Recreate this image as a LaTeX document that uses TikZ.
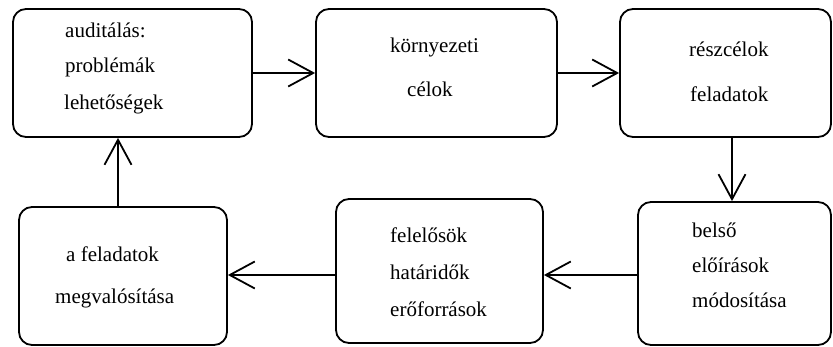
\documentclass[tikz,border=0pt]{standalone}
\usepackage{fontspec}
\setmainfont{Liberation Serif}
\usetikzlibrary{arrows.meta}
\begin{document}
\begin{tikzpicture}[x=1pt,y=-1pt,
  box/.style={draw, line width=1.8pt, rounded corners=13pt},
  txt/.style={inner sep=0pt, anchor=base west, font=\fontsize{21}{25}\selectfont},
  arr/.style={line width=1.8pt, -{Straight Barb[length=25pt,width=27pt,line width=1.8pt]}}]
\useasboundingbox (0,0) rectangle (833,347);
% boxes
\node[box, minimum width=239pt, minimum height=128pt] (b1) at (132.5,73) {};
\node[box, minimum width=241pt, minimum height=128pt] (b2) at (436.5,73) {};
\node[box, minimum width=211pt, minimum height=128pt] (b3) at (725.5,73) {};
\node[box, minimum width=193pt, minimum height=143pt] (b4) at (734.5,273.5) {};
\node[box, minimum width=207pt, minimum height=144pt] (b5) at (439.5,271) {};
\node[box, minimum width=208pt, minimum height=138pt] (b6) at (123,276) {};
% texts
\node[txt] (t1a) at (65,38) {auditálás:};
\node[txt] (t1b) at (65,73) {problémák};
\node[txt] (t1c) at (64,110) {lehetőségek};
\node[txt] (t2a) at (390,53) {környezeti};
\node[txt] (t2b) at (407,97) {célok};
\node[txt] (t3a) at (689,57) {részcélok};
\node[txt] (t3b) at (690,102) {feladatok};
\node[txt] (t4a) at (692,238) {belső};
\node[txt] (t4b) at (692,273) {előírások};
\node[txt] (t4c) at (692,308) {módosítása};
\node[txt] (t5a) at (390,243) {felelősök};
\node[txt] (t5b) at (390,280) {határidők};
\node[txt] (t5c) at (390,317) {erőforrások};
\node[txt] (t6a) at (66,262) {a feladatok};
\node[txt] (t6b) at (55,304) {megvalósítása};
% connectors
\coordinate (c34) at (732,0);
\coordinate (c45) at (0,275);
\coordinate (c61) at (118,0);
\draw[arr] (b1.east) -- (b2.west);
\draw[arr] (b2.east) -- (b3.west);
\draw[arr] (b3.south -| c34) -- (b4.north -| c34);
\draw[arr] (b4.west |- c45) -- (b5.east |- c45);
\draw[arr] (b5.west |- c45) -- (b6.east |- c45);
\draw[arr] (b6.north -| c61) -- (b1.south -| c61);
\end{tikzpicture}
\end{document}
